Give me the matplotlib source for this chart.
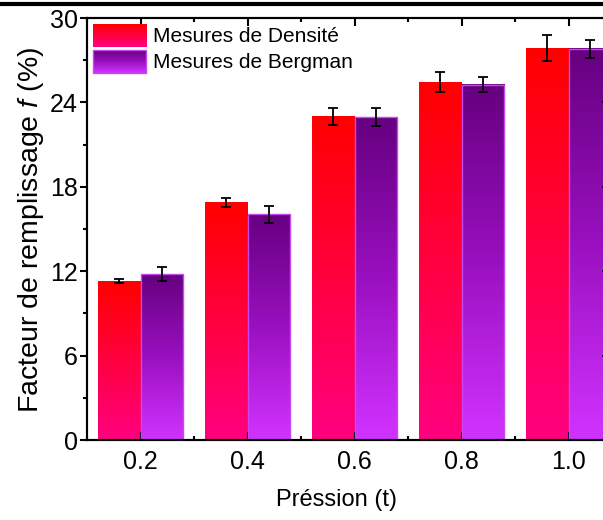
import numpy as np
import matplotlib
matplotlib.use('Agg')
import matplotlib.pyplot as plt
from matplotlib.colors import LinearSegmentedColormap
from matplotlib.legend_handler import HandlerBase
from matplotlib.image import BboxImage
from matplotlib.transforms import Bbox, TransformedBbox
from matplotlib.lines import Line2D
from matplotlib.patches import Rectangle
from matplotlib.ticker import MultipleLocator

# ---- data ----
pressure = [0.2, 0.4, 0.6, 0.8, 1.0]
densite = [11.3, 16.85, 23.0, 25.45, 27.85]
densite_err = [0.12, 0.32, 0.63, 0.72, 0.92]
bergman = [11.8, 16.05, 22.95, 25.25, 27.8]
bergman_err = [0.5, 0.6, 0.62, 0.53, 0.62]
xtick_labels = ['0.2', '0.4', '0.6', '0.8', '1.0']
yticks = [0, 6, 12, 18, 24, 30]
series_labels = ['Mesures de Densité', 'Mesures de Bergman']

plt.rcParams['font.family'] = ['Liberation Sans', 'DejaVu Sans']
plt.rcParams['mathtext.fontset'] = 'custom'
plt.rcParams['mathtext.rm'] = 'Liberation Sans'
plt.rcParams['mathtext.it'] = 'Liberation Sans:italic'

red_cmap = LinearSegmentedColormap.from_list('redg', ['#FF0080', '#FF0000'])
pur_cmap = LinearSegmentedColormap.from_list('purg', ['#D133FF', '#9A10C0', '#660080'])
grad = np.linspace(0, 1, 256).reshape(-1, 1)

fig = plt.figure(figsize=(6.03, 5.2), dpi=100)
W, H = 603, 520
x0, x1, y0, y1 = 87, 612, 440, 18
ax = fig.add_axes([x0 / W, 1 - y0 / H, (x1 - x0) / W, (y0 - y1) / H])

bw = 0.08
xs = np.array(pressure)
bars_d = ax.bar(xs - bw / 2, densite, width=bw, facecolor='none', edgecolor='none', zorder=2)
bars_b = ax.bar(xs + bw / 2, bergman, width=bw, facecolor='none', edgecolor='#C848F0', linewidth=1.0, zorder=2)

for bars, cmap in ((bars_d, red_cmap), (bars_b, pur_cmap)):
    for r in bars:
        bx, by = r.get_x(), r.get_y()
        ax.imshow(grad, cmap=cmap, origin='lower', aspect='auto',
                  extent=[bx, bx + r.get_width(), by, by + r.get_height()],
                  interpolation='bilinear', zorder=1)

ax.errorbar(xs - bw / 2, densite, yerr=densite_err, fmt='none', ecolor='black',
            elinewidth=1.3, capsize=3.6, capthick=1.3, zorder=3)
ax.errorbar(xs + bw / 2, bergman, yerr=bergman_err, fmt='none', ecolor='black',
            elinewidth=1.3, capsize=3.6, capthick=1.3, zorder=3)

ax.set_xlim(0.1, 0.1 + (x1 - x0) / 535.0)
ax.set_ylim(0, 30)
ax.set_xticks(pressure)
ax.set_xticklabels(xtick_labels)
ax.xaxis.set_minor_locator(MultipleLocator(0.1))
ax.set_yticks(yticks)
ax.yaxis.set_minor_locator(MultipleLocator(3))

for s in ax.spines.values():
    s.set_linewidth(1.5)

ax.tick_params(axis='x', which='both', direction='in', top=True, bottom=True,
               labelsize=18, pad=7)
ax.tick_params(axis='x', which='major', length=6, width=1.5)
ax.tick_params(axis='x', which='minor', length=3, width=1.5)
ax.tick_params(axis='y', which='both', direction='out', left=True, right=False,
               labelsize=18, pad=1.5)
ax.tick_params(axis='y', which='major', length=5, width=1.5)
ax.tick_params(axis='y', which='minor', length=3, width=1.5)

ax2 = ax.twinx()
ax2.set_ylim(0, 30)
ax2.set_yticks(yticks)
ax2.yaxis.set_minor_locator(MultipleLocator(3))
ax2.tick_params(axis='y', which='both', direction='in', labelright=False)
ax2.tick_params(axis='y', which='major', length=7.5, width=1.5)
ax2.tick_params(axis='y', which='minor', length=3, width=1.5)
for s in ax2.spines.values():
    s.set_linewidth(1.5)

ax.set_xlabel('Préssion (t)', fontsize=17)
ax.xaxis.set_label_coords((337 - x0) / (x1 - x0), -(500 - y0) / (y0 - y1), transform=ax.transAxes)
ax.set_ylabel('Facteur de remplissage $f$ (%)', fontsize=20.5)
ax.yaxis.set_label_coords(-(87 - 31) / (x1 - x0), (440 - 230) / (y0 - y1), transform=ax.transAxes)
ax.xaxis.label.set_va('center')
ax.yaxis.label.set_va('center')


class GradientHandler(HandlerBase):
    def __init__(self, cmap, edge=None):
        super().__init__()
        self.cmap = cmap
        self.edge = edge

    def create_artists(self, legend, orig_handle, xdescent, ydescent, width,
                       height, fontsize, trans):
        bb = Bbox.from_bounds(-xdescent, -ydescent, width, height)
        tbb = TransformedBbox(bb, trans)
        img = BboxImage(tbb, cmap=self.cmap, interpolation='bilinear', origin='lower')
        img.set_data(grad)
        arts = [img]
        if self.edge:
            arts.append(Rectangle((-xdescent, -ydescent), width, height,
                                  facecolor='none', edgecolor=self.edge,
                                  linewidth=1.0, transform=trans))
        return arts


h1 = Rectangle((0, 0), 1, 1)
h2 = Rectangle((0, 0), 1, 1)
axw, axh = x1 - x0, y0 - y1
ax.legend([h1, h2], series_labels,
          handler_map={h1: GradientHandler(red_cmap), h2: GradientHandler(pur_cmap, '#C848F0')},
          loc='upper left', bbox_to_anchor=(6 / axw, 1 - 6 / axh),
          frameon=False, fontsize=15, handlelength=2.55, handleheight=1.3,
          labelspacing=0.15, handletextpad=0.33, borderpad=0, borderaxespad=0)

fig.add_artist(Line2D([0, 1], [1 - 4 / H, 1 - 4 / H], transform=fig.transFigure,
                      color='black', linewidth=3))

fig.savefig('out.png', dpi=100)
